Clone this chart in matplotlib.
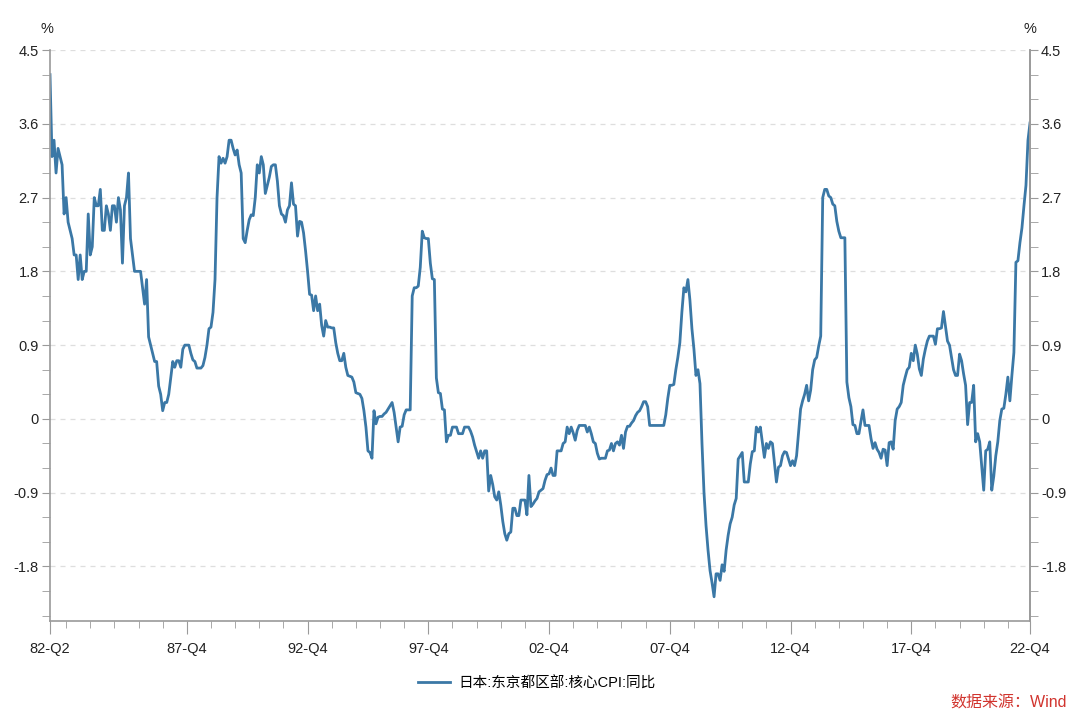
import pandas as pd
import numpy as np
import matplotlib
matplotlib.use("Agg")
import matplotlib.pyplot as plt
from matplotlib.ticker import MultipleLocator, FixedLocator

plt.rcParams['font.family'] = ['Liberation Sans', 'Noto Sans CJK SC', 'DejaVu Sans']

# Tokyo core CPI, YoY %, monthly from 1982-04 (rows = Apr..Mar)
start_month = "1982-04"
cpi_yoy = [
    4.2, 3.2, 3.4, 3.0, 3.3, 3.2, 3.1, 2.5, 2.7, 2.4, 2.3, 2.2,          # 82
    2.0, 2.0, 1.7, 2.0, 1.7, 1.8, 1.8, 2.5, 2.0, 2.1, 2.7, 2.6,          # 83
    2.6, 2.8, 2.3, 2.3, 2.6, 2.5, 2.3, 2.6, 2.6, 2.4, 2.7, 2.55,         # 84
    1.9, 2.6, 2.7, 3.0, 2.2, 2.0, 1.8, 1.8, 1.8, 1.8, 1.6, 1.4,          # 85
    1.7, 1.0, 0.9, 0.8, 0.7, 0.7, 0.4, 0.3, 0.1, 0.2, 0.2, 0.3,          # 86
    0.5, 0.7, 0.63, 0.71, 0.71, 0.63, 0.85, 0.9, 0.9, 0.9, 0.8, 0.72,    # 87
    0.7, 0.62, 0.62, 0.62, 0.65, 0.75, 0.9, 1.1, 1.12, 1.3, 1.7, 2.7,    # 88
    3.2, 3.12, 3.18, 3.12, 3.2, 3.4, 3.4, 3.3, 3.22, 3.28, 3.1, 3.0,     # 89
    2.2, 2.15, 2.3, 2.43, 2.49, 2.48, 2.7, 3.1, 3.0, 3.2, 3.1, 2.75,     # 90
    2.85, 2.95, 3.08, 3.1, 3.1, 2.9, 2.6, 2.5, 2.48, 2.4, 2.55, 2.6,     # 91
    2.88, 2.62, 2.6, 2.23, 2.41, 2.4, 2.27, 2.05, 1.8, 1.52, 1.51, 1.32, # 92
    1.5, 1.32, 1.4, 1.14, 1.01, 1.2, 1.12, 1.12, 1.11, 1.11, 0.93, 0.8,  # 93
    0.71, 0.71, 0.8, 0.63, 0.53, 0.52, 0.51, 0.45, 0.32, 0.31, 0.3, 0.25,  # 94
    0.1, -0.1, -0.39, -0.41, -0.48, 0.1, -0.06, 0.02, 0.03, 0.03, 0.06, 0.08,  # 95
    0.12, 0.16, 0.2, 0.08, -0.1, -0.28, -0.1, -0.09, 0.05, 0.11, 0.11, 0.11,   # 96
    1.5, 1.6, 1.6, 1.62, 1.85, 2.29, 2.21, 2.2, 2.2, 1.9, 1.71, 1.7,     # 97
    0.5, 0.32, 0.31, 0.12, 0.11, -0.28, -0.2, -0.2, -0.1, -0.1, -0.1, -0.18,   # 98
    -0.18, -0.18, -0.1, -0.1, -0.1, -0.15, -0.22, -0.32, -0.4, -0.48, -0.39, -0.48,  # 99
    -0.39, -0.39, -0.88, -0.69, -0.8, -0.95, -0.99, -0.89, -1.05, -1.25, -1.4, -1.48,  # 00
    -1.4, -1.38, -1.09, -1.09, -1.18, -1.18, -0.99, -0.99, -0.99, -1.17, -0.69, -1.07,  # 01
    -1.04, -1.0, -0.97, -0.89, -0.87, -0.85, -0.75, -0.68, -0.67, -0.6, -0.69, -0.69,  # 02
    -0.39, -0.39, -0.39, -0.3, -0.28, -0.1, -0.18, -0.1, -0.17, -0.26, -0.14, -0.08,   # 03
    -0.08, -0.08, -0.08, -0.16, -0.1, -0.18, -0.28, -0.3, -0.42, -0.49, -0.48, -0.48,  # 04
    -0.48, -0.39, -0.38, -0.3, -0.39, -0.3, -0.28, -0.32, -0.2, -0.36, -0.16, -0.09,   # 05
    -0.09, -0.05, -0.02, 0.04, 0.08, 0.1, 0.15, 0.21, 0.21, 0.15, -0.08, -0.08,        # 06
    -0.08, -0.08, -0.08, -0.08, -0.08, -0.08, 0.05, 0.25, 0.41, 0.41, 0.42, 0.6,       # 07
    0.75, 0.93, 1.3, 1.6, 1.55, 1.7, 1.45, 1.1, 0.85, 0.53, 0.6, 0.43,                 # 08
    -0.3, -0.9, -1.3, -1.6, -1.85, -2.0, -2.17, -1.89, -1.89, -1.97, -1.78, -1.86,     # 09
    -1.6, -1.42, -1.28, -1.2, -1.05, -0.97, -0.49, -0.45, -0.41, -0.77, -0.77, -0.77,  # 10
    -0.55, -0.4, -0.39, -0.1, -0.16, -0.1, -0.28, -0.47, -0.3, -0.36, -0.28, -0.3,     # 11
    -0.53, -0.77, -0.59, -0.57, -0.45, -0.4, -0.41, -0.49, -0.57, -0.51, -0.57, -0.45, # 12
    -0.16, 0.12, 0.22, 0.3, 0.41, 0.22, 0.35, 0.6, 0.72, 0.75, 0.89, 1.01,             # 13
    2.7, 2.8, 2.8, 2.72, 2.7, 2.62, 2.6, 2.41, 2.29, 2.21, 2.21, 2.21,                 # 14
    0.45, 0.26, 0.15, -0.07, -0.08, -0.18, -0.18, -0.03, 0.11, -0.08, -0.08, -0.08,    # 15
    -0.24, -0.36, -0.29, -0.37, -0.41, -0.48, -0.37, -0.38, -0.57, -0.29, -0.28, -0.37,  # 16
    -0.02, 0.12, 0.15, 0.2, 0.41, 0.51, 0.6, 0.63, 0.8, 0.71, 0.9, 0.79,               # 17
    0.61, 0.53, 0.73, 0.85, 0.95, 1.01, 1.01, 1.01, 0.91, 1.1, 1.1, 1.11,              # 18
    1.31, 1.13, 0.95, 0.9, 0.75, 0.6, 0.53, 0.53, 0.79, 0.71, 0.55, 0.41,              # 19
    -0.07, 0.2, 0.2, 0.41, -0.28, -0.18, -0.28, -0.57, -0.87, -0.39, -0.37, -0.28,     # 20
    -0.87, -0.7, -0.45, -0.28, -0.02, 0.12, 0.13, 0.3, 0.51, 0.22, 0.53, 0.81,         # 21
    1.91, 1.93, 2.15, 2.33, 2.6, 2.85, 3.4, 3.61,                                      # 22
]

tick_years = [1987, 1992, 1997, 2002, 2007, 2012, 2017, 2022]
tick_labels = ["82-Q2", "87-Q4", "92-Q4", "97-Q4", "02-Q4", "07-Q4", "12-Q4", "17-Q4", "22-Q4"]
y_major = [-1.8, -0.9, 0, 0.9, 1.8, 2.7, 3.6, 4.5]
y_labels = ["-1.8", "-0.9", "0", "0.9", "1.8", "2.7", "3.6", "4.5"]

legend_label = "日本:东京都区部:核心CPI:同比"
source_text = "数据来源：Wind"

line_color = "#3b78a6"
axis_gray = "#9a9a9a"

dates = pd.date_range(start_month, periods=len(cpi_yoy), freq="MS")
x = np.arange(len(cpi_yoy))
last = len(cpi_yoy) - 1

def month_index(year, month):
    return (year - dates[0].year) * 12 + (month - dates[0].month)

major_pos = [0] + [min(month_index(y, 12), last) for y in tick_years]
minor_pos = [month_index(y, 12) for y in range(1982, 2022)]

fig = plt.figure(figsize=(10.8, 7.2), dpi=100)
ax = fig.add_axes([0.0463, 0.137, 0.9074, 0.7935])

ax.plot(x, cpi_yoy, color=line_color, linewidth=2.0, label=legend_label)

ax.set_xlim(0, last)
ax.set_ylim(-2.47, 4.5)

ax.xaxis.set_major_locator(FixedLocator(major_pos))
ax.xaxis.set_minor_locator(FixedLocator(minor_pos))
ax.set_xticklabels(tick_labels)
ax.yaxis.set_major_locator(FixedLocator(y_major))
ax.yaxis.set_minor_locator(MultipleLocator(0.3))
ax.set_yticklabels(y_labels)

ax.grid(axis="y", which="major", linestyle=(0, (4, 4)), color="#dedede", linewidth=0.9)
ax.set_axisbelow(True)

for side in ["top"]:
    ax.spines[side].set_visible(False)
for side in ["left", "right", "bottom"]:
    ax.spines[side].set_color(axis_gray)
    ax.spines[side].set_linewidth(1.2)

ax.tick_params(axis="both", which="both", colors=axis_gray, labelcolor="#222222", labelsize=10.5)
ax.tick_params(axis="x", which="major", length=9, pad=6)
ax.tick_params(axis="x", which="minor", length=5)
ax.tick_params(axis="y", which="major", length=6, pad=2)
ax.tick_params(axis="y", which="minor", length=6)

ax2 = ax.twinx()
ax2.set_ylim(ax.get_ylim())
ax2.yaxis.set_major_locator(FixedLocator(y_major))
ax2.yaxis.set_minor_locator(MultipleLocator(0.3))
ax2.set_yticklabels(y_labels)
ax2.spines["top"].set_visible(False)
ax2.spines["left"].set_visible(False)
ax2.spines["bottom"].set_visible(False)
ax2.spines["right"].set_color(axis_gray)
ax2.spines["right"].set_linewidth(1.2)
ax2.tick_params(axis="y", which="both", colors=axis_gray, labelcolor="#222222",
                labelsize=10.5, length=6, pad=2)

fig.text(0.0435, 0.96, "%", ha="center", va="center", fontsize=10.5, color="#222222")
fig.text(0.954, 0.96, "%", ha="center", va="center", fontsize=10.5, color="#222222")

fig.legend(loc="center", bbox_to_anchor=(0.497, 0.051), frameon=False,
           fontsize=10.5, handlelength=2.2, handletextpad=0.6)

fig.text(0.988, 0.023, source_text, ha="right", va="center", fontsize=11.5, color="#d1342e")

fig.savefig("out.png", dpi=100)
